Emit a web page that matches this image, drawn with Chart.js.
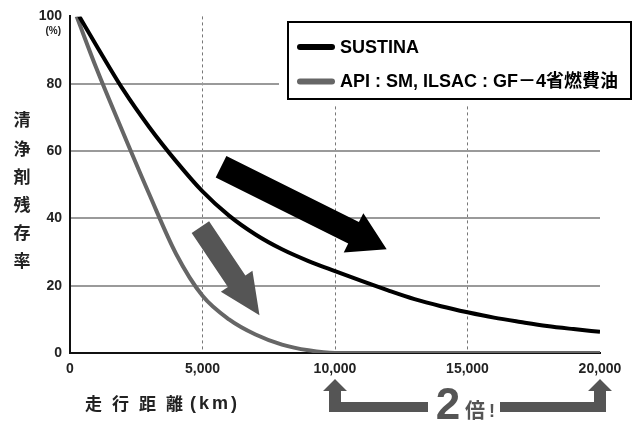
<!DOCTYPE html>
<html>
<head>
<meta charset="utf-8">
<script src="https://cdn.jsdelivr.net/npm/chart.js@4/dist/chart.umd.min.js"></script>
<style>
  body { margin: 0; background: #fff; }
  canvas { display: block; }
</style>
</head>
<body>
<canvas id="chart" width="636" height="421"></canvas>
<script>
// ======= DATA =======
const seriesNames = ["SUSTINA", "API : SM, ILSAC : GF－4省燃費油"];
const sustinaKm   = [350, 1000, 2000, 3000, 4000, 5000, 6000, 7000, 8000, 9000, 10000, 11000, 12000, 13000, 14000, 15000, 16000, 17000, 18000, 19000, 20000];
const sustinaPct  = [100, 91.3, 78.3, 67, 57, 48, 40.8, 35.2, 30.8, 27.3, 24.3, 21.4, 18.6, 16.0, 13.9, 12.1, 10.5, 9.2, 8.0, 7.1, 6.3];
const apiKm       = [250, 1000, 2000, 3000, 4000, 5000, 6000, 7000, 8000, 9000, 10000, 20000];
const apiPct      = [100, 84.5, 65.5, 47, 29.5, 17, 10, 5.5, 2.5, 0.8, 0, 0];
const yTicks      = [0, 20, 40, 60, 80, 100];
const xTicks      = [0, 5000, 10000, 15000, 20000];
const yTitleChars = ["清", "浄", "剤", "残", "存", "率"];
const xTitle      = ["走行距離", "(km)"];

// annotation arrows, given in data units (km, %)
const arrows = [
  { from: [5700, 55.3], to: [11950, 30.8], shaft: 24, head: 44, headLen: 37, color: "#000" },
  { from: [4920, 37.4], to: [7150, 11.2], shaft: 21, head: 38, headLen: 41, color: "#555" }
];

const latin = '"Liberation Sans", Arial, "Noto Sans CJK JP", sans-serif';
const cjk = '"Noto Sans CJK JP", sans-serif';

const toPoints = (xs, ys) => xs.map((v, i) => ({ x: v, y: ys[i] }));

// ======= ARROW HELPER =======
function drawArrow(ctx, x0, y0, x1, y1, shaftW, headW, headL, color) {
  const ang = Math.atan2(y1 - y0, x1 - x0);
  const len = Math.hypot(x1 - x0, y1 - y0);
  ctx.save();
  ctx.translate(x0, y0);
  ctx.rotate(ang);
  ctx.beginPath();
  ctx.moveTo(0, -shaftW / 2);
  ctx.lineTo(len - headL, -shaftW / 2);
  ctx.lineTo(len - headL, -headW / 2);
  ctx.lineTo(len, 0);
  ctx.lineTo(len - headL, headW / 2);
  ctx.lineTo(len - headL, shaftW / 2);
  ctx.lineTo(0, shaftW / 2);
  ctx.closePath();
  ctx.fillStyle = color;
  ctx.fill();
  ctx.restore();
}

// ======= EXTRA DRAWING: titles, legend box, arrows, "2倍!" =======
const extras = {
  id: "extras",
  afterDraw(chart) {
    const { ctx, scales: { x, y } } = chart;
    ctx.save();

    // big diagonal arrows
    arrows.forEach(a => {
      drawArrow(ctx, x.getPixelForValue(a.from[0]), y.getPixelForValue(a.from[1]),
        x.getPixelForValue(a.to[0]), y.getPixelForValue(a.to[1]),
        a.shaft, a.head, a.headLen, a.color);
    });

    // "(%)" under the 100 tick
    ctx.fillStyle = "#222";
    ctx.font = "bold 10px " + latin;
    ctx.textAlign = "right";
    ctx.textBaseline = "middle";
    ctx.fillText("(%)", 61, 31);

    // vertical y title
    ctx.font = "bold 17px " + cjk;
    ctx.textAlign = "center";
    yTitleChars.forEach((c, i) => ctx.fillText(c, 22, 120 + i * 28.2));

    // x title with wide spacing
    ctx.textAlign = "left";
    ctx.letterSpacing = "10px";
    ctx.fillText(xTitle[0], 85, 404);
    ctx.letterSpacing = "3px";
    ctx.font = "bold 18px " + latin;
    ctx.fillText(xTitle[1], 190, 404);
    ctx.letterSpacing = "0px";

    // legend box (white margin hides the grid behind it)
    ctx.fillStyle = "#fff";
    ctx.fillRect(279, 13, 357, 92);
    ctx.lineWidth = 2;
    ctx.strokeStyle = "#000";
    ctx.strokeRect(288, 22, 343, 77);
    chart.data.datasets.forEach((ds, i) => {
      const ly = 47 + i * 34.5;
      ctx.beginPath();
      ctx.lineCap = "round";
      ctx.lineWidth = 6;
      ctx.strokeStyle = ds.borderColor;
      ctx.moveTo(300, ly);
      ctx.lineTo(332, ly);
      ctx.stroke();
      ctx.fillStyle = "#000";
      ctx.font = "bold 18px " + latin;
      ctx.textAlign = "left";
      ctx.textBaseline = "middle";
      ctx.fillText(ds.label, 340, ly + 1, 286);
    });

    // "2倍!" bracket below the axis, from 10,000 to 20,000
    const xa = x.getPixelForValue(xTicks[2]);
    const xb = x.getPixelForValue(xTicks[4]);
    ctx.fillStyle = "#555";
    ctx.beginPath();
    ctx.moveTo(xa - 12, 391); ctx.lineTo(xa, 379); ctx.lineTo(xa + 12, 391);
    ctx.lineTo(xa + 6, 391); ctx.lineTo(xa + 6, 402); ctx.lineTo(428, 402);
    ctx.lineTo(428, 412); ctx.lineTo(xa - 6, 412); ctx.lineTo(xa - 6, 391);
    ctx.closePath();
    ctx.fill();
    ctx.beginPath();
    ctx.moveTo(xb + 12, 391); ctx.lineTo(xb, 379); ctx.lineTo(xb - 12, 391);
    ctx.lineTo(xb - 6, 391); ctx.lineTo(xb - 6, 402); ctx.lineTo(500, 402);
    ctx.lineTo(500, 412); ctx.lineTo(xb + 6, 412); ctx.lineTo(xb + 6, 391);
    ctx.closePath();
    ctx.fill();
    ctx.textBaseline = "alphabetic";
    ctx.textAlign = "center";
    ctx.font = "bold 44px " + latin;
    ctx.fillText("2", 448, 419);
    ctx.font = "bold 20px " + cjk;
    ctx.fillText("倍", 475, 418);
    ctx.font = "bold 18px " + latin;
    ctx.fillText("!", 492, 417);

    ctx.restore();
  }
};

// ======= CHART =======
new Chart(document.getElementById("chart"), {
  type: "line",
  data: {
    datasets: [
      { label: seriesNames[0], data: toPoints(sustinaKm, sustinaPct), borderColor: "#000", borderWidth: 4 },
      { label: seriesNames[1], data: toPoints(apiKm, apiPct), borderColor: "#666", borderWidth: 4 }
    ]
  },
  options: {
    responsive: false,
    animation: false,
    devicePixelRatio: 1,
    layout: { padding: { left: 0, top: 13, right: 36, bottom: 0 } },
    elements: { point: { radius: 0 }, line: { cubicInterpolationMode: "monotone" } },
    plugins: { legend: { display: false }, tooltip: { enabled: false } },
    scales: {
      x: {
        type: "linear",
        min: xTicks[0],
        max: xTicks[xTicks.length - 1],
        afterBuildTicks: s => { s.ticks = xTicks.map(v => ({ value: v })); },
        afterFit: s => { s.height = 68; },
        ticks: {
          color: "#222",
          font: { family: latin, size: 14, weight: "bold" },
          padding: 8,
          maxRotation: 0,
          callback: v => v.toLocaleString("en-US")
        },
        grid: {
          drawTicks: false,
          lineWidth: 1,
          color: c => (c.tick && (c.tick.value === 0 || c.tick.value === 20000)) ? "rgba(0,0,0,0)" : "#777"
        },
        border: { display: true, color: "#111", width: 2, dash: [3, 3] }
      },
      y: {
        min: yTicks[0],
        max: yTicks[yTicks.length - 1],
        afterBuildTicks: s => { s.ticks = yTicks.map(v => ({ value: v })); },
        afterFit: s => { s.width = 70; },
        ticks: {
          color: "#222",
          font: { family: latin, size: 14, weight: "bold" },
          padding: 8
        },
        grid: {
          drawTicks: false,
          lineWidth: 2,
          color: c => (c.tick && (c.tick.value === 0 || c.tick.value === 100)) ? "rgba(0,0,0,0)" : "#9a9a9a"
        },
        border: { display: true, color: "#111", width: 2 }
      }
    }
  },
  plugins: [extras]
});
</script>
</body>
</html>
